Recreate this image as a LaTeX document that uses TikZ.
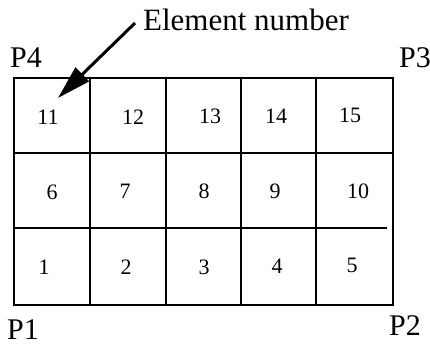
\documentclass[tikz,border=0pt]{standalone}
\usepackage{fontspec}
\setmainfont{Liberation Serif}
\usetikzlibrary{arrows.meta}
\begin{document}
\begin{tikzpicture}[x=1pt,y=-1pt,
  gridline/.style={line width=2pt,line cap=rect},
  num/.style={font=\fontsize{22}{22}\selectfont,inner sep=0pt},
  corner/.style={font=\fontsize{30}{30}\selectfont,inner sep=0pt},
  callout/.style={line width=3pt,-{Triangle[length=34pt,width=19pt]}}]
\useasboundingbox (0,0) rectangle (430,346);
% grid
\draw[gridline] (14,78) rectangle (393,305);
\foreach \x in {90,166,241,316} \draw[gridline] (\x,78) -- (\x,305);
\draw[gridline] (14,153) -- (393,153);
\draw[gridline] (14,228) -- (386,228);
% element numbers
\node[num] (n11) at (48,117) {11};
\node[num] (n12) at (133,117) {12};
\node[num] (n13) at (210,116) {13};
\node[num] (n14) at (276,116) {14};
\node[num] (n15) at (350,115) {15};
\node[num] (n6) at (52,192) {6};
\node[num] (n7) at (125,191) {7};
\node[num] (n8) at (204,191) {8};
\node[num] (n9) at (275,191) {9};
\node[num] (n10) at (358,191) {10};
\node[num] (n1) at (44,267) {1};
\node[num] (n2) at (126,267) {2};
\node[num] (n3) at (204,267) {3};
\node[num] (n4) at (277,266) {4};
\node[num] (n5) at (352,265) {5};
% corner labels
\node[corner] (p4) at (26,58) {P4};
\node[corner] (p3) at (415,58) {P3};
\node[corner] (p1) at (23,330) {P1};
\node[corner] (p2) at (405,326) {P2};
% callout
\node[font=\fontsize{31}{31}\selectfont,inner sep=0pt,anchor=base] (lbl) at (246,30) {Element number};
\coordinate (tail) at (135,23);
\coordinate (tip) at (58,98);
\draw[callout] (tail) -- (tip);
\end{tikzpicture}
\end{document}
